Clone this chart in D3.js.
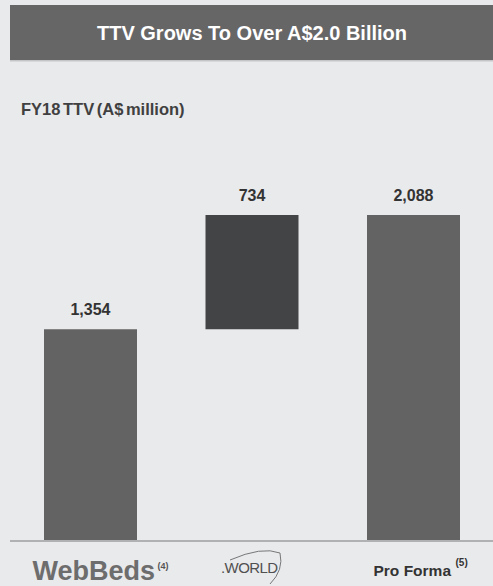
<!DOCTYPE html>
<html><head><meta charset="utf-8">
<script src="https://cdn.jsdelivr.net/npm/d3@7"></script>
<style>html,body{margin:0;padding:0;background:#e9eaec;}svg{display:block;}</style>
</head><body>
<script>
const categories = ["WebBeds", ".WORLD", "Pro Forma"];
const barValues = [1354, 734, 2088];
const barBases = [0, 1354, 0];
const valueLabels = ["1,354", "734", "2,088"];
const footnotes = ["(4)", "", "(5)"];
const title = "TTV Grows To Over A$2.0 Billion";
const subtitle = "FY18 TTV (A$ million)";

const W = 493, H = 586;
const svg = d3.select("body").append("svg").attr("width", W).attr("height", H);
svg.append("rect").attr("width", W).attr("height", H).attr("fill", "#e9eaec");

// header
svg.append("rect").attr("x", 10).attr("y", 5).attr("width", W - 10).attr("height", 55).attr("fill", "#666667");
svg.append("rect").attr("x", 10).attr("y", 60).attr("width", W - 10).attr("height", 1.5).attr("fill", "#c4c5c7");
svg.append("text").attr("x", 252).attr("y", 40).attr("text-anchor", "middle")
  .attr("font-family", "Liberation Sans, Arial, sans-serif").attr("font-weight", "bold")
  .attr("font-size", 20).attr("fill", "#ffffff").text(title);

svg.append("text").attr("x", 21).attr("y", 115)
  .attr("font-family", "Liberation Sans, Arial, sans-serif").attr("font-weight", "bold")
  .attr("font-size", 16.5).attr("word-spacing", -2).attr("fill", "#404040").text(subtitle);

const xs = d3.scaleBand().domain(categories).range([44, 460]).paddingInner(68.5 / 161.5);
const y = d3.scaleLinear().domain([0, 2088]).range([540, 215]);

const colors = ["#636363", "#434446", "#636363"];
svg.selectAll("rect.bar").data(categories).join("rect").attr("class", "bar")
  .attr("x", d => xs(d)).attr("width", xs.bandwidth())
  .attr("y", (d, i) => y(barBases[i] + barValues[i]))
  .attr("height", (d, i) => y(barBases[i]) - y(barBases[i] + barValues[i]))
  .attr("fill", (d, i) => colors[i]);

svg.selectAll("text.val").data(categories).join("text").attr("class", "val")
  .attr("x", d => xs(d) + xs.bandwidth() / 2)
  .attr("y", (d, i) => y(barBases[i] + barValues[i]) - 14)
  .attr("text-anchor", "middle")
  .attr("font-family", "Liberation Sans, Arial, sans-serif").attr("font-weight", "bold")
  .attr("font-size", 16).attr("fill", "#333333").text((d, i) => valueLabels[i]);

// axis line
svg.append("rect").attr("x", 10).attr("y", 540).attr("width", W - 10).attr("height", 2).attr("fill", "#b0b1b3");

const c0 = xs(categories[0]) + xs.bandwidth() / 2;
const c1 = xs(categories[1]) + xs.bandwidth() / 2;
const c2 = xs(categories[2]) + xs.bandwidth() / 2;

// WebBeds logo-style text
svg.append("text").attr("x", c0 - 58).attr("y", 580)
  .attr("font-family", "Liberation Sans, Arial, sans-serif").attr("font-weight", "bold")
  .attr("font-size", 27).attr("fill", "#6d6d6d").text(categories[0]);
svg.append("text").attr("x", c0 + 67).attr("y", 569)
  .attr("font-family", "Liberation Sans, Arial, sans-serif").attr("font-weight", "bold")
  .attr("font-size", 9).attr("fill", "#555").text(footnotes[0]);

// .WORLD logo
svg.append("text").attr("x", c1 - 31).attr("y", 573)
  .attr("font-family", "Liberation Sans Narrow, Arial Narrow, sans-serif")
  .attr("font-size", 15).attr("letter-spacing", -0.6).attr("fill", "#505050").text(categories[1]);
svg.append("path")
  .attr("d", `M${c1 - 22},${560} Q${c1 + 10},${546} ${c1 + 28},${553} Q${c1 + 32},${570} ${c1 + 18},${584}`)
  .attr("fill", "none").attr("stroke", "#777").attr("stroke-width", 1);

svg.append("text").attr("x", c2 - 40).attr("y", 576)
  .attr("font-family", "Liberation Sans, Arial, sans-serif").attr("font-weight", "bold")
  .attr("font-size", 15.5).attr("fill", "#333333").text(categories[2]);
svg.append("text").attr("x", c2 + 42).attr("y", 566)
  .attr("font-family", "Liberation Sans, Arial, sans-serif").attr("font-weight", "bold")
  .attr("font-size", 10).attr("fill", "#333333").text(footnotes[2]);
</script>
</body></html>
